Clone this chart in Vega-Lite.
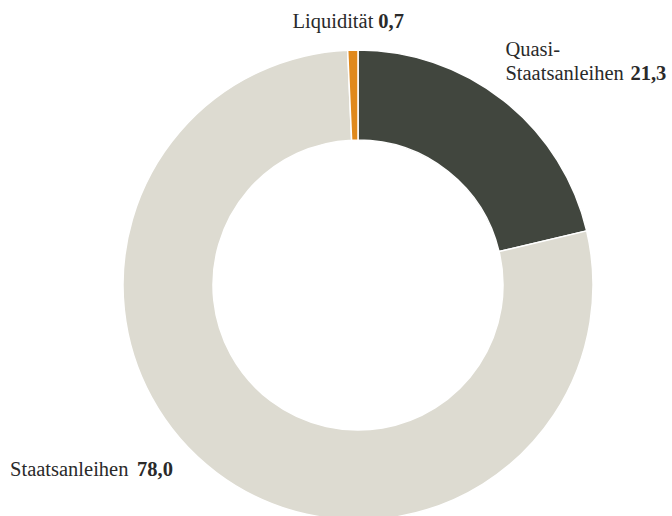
{
  "$schema": "https://vega.github.io/schema/vega-lite/v6.json",
  "width": 628,
  "height": 470,
  "autosize": "none",
  "padding": {"left": 44, "top": 50, "right": 0, "bottom": 0},
  "background": "white",
  "config": {
    "view": {"stroke": null},
    "locale": {"number": {"decimal": ",", "thousands": ".", "grouping": [3], "currency": ["", " €"]}},
    "text": {"font": "Liberation Serif", "fontSize": 20.5, "fill": "#2a2a2a", "baseline": "alphabetic"}
  },
  "data": {
    "values": [
      {"nr": 1, "name": "Quasi-\nStaatsanleihen", "anteil": 21.3},
      {"nr": 2, "name": "Staatsanleihen", "anteil": 78.0},
      {"nr": 3, "name": "Liquidität", "anteil": 0.7}
    ]
  },
  "encoding": {
    "theta": {"field": "anteil", "type": "quantitative", "stack": true},
    "order": {"field": "nr", "type": "quantitative"}
  },
  "layer": [
    {
      "mark": {"type": "arc", "outerRadius": 235, "innerRadius": 145, "stroke": "white", "strokeWidth": 1.5},
      "encoding": {
        "color": {
          "field": "name",
          "type": "nominal",
          "scale": {"domain": ["Quasi-\nStaatsanleihen", "Staatsanleihen", "Liquidität"], "range": ["#41463e", "#dddbd1", "#e0891c"]},
          "legend": null
        }
      }
    },
    {
      "mark": {"type": "text", "radius": 257, "align": "left", "dx": -12, "dy": -27, "lineBreak": "\n", "lineHeight": 24},
      "encoding": {"text": {"condition": {"test": "datum.nr === 1", "field": "name"}, "value": ""}}
    },
    {
      "mark": {"type": "text", "radius": 257, "align": "left", "dx": 113, "dy": -3, "fontWeight": "bold"},
      "encoding": {"text": {"condition": {"test": "datum.nr === 1", "field": "anteil", "type": "quantitative", "format": ".1f"}, "value": ""}}
    },
    {
      "mark": {"type": "text", "radius": 257, "align": "left", "dx": -193, "dy": -14},
      "encoding": {"text": {"condition": {"test": "datum.nr === 2", "field": "name"}, "value": ""}}
    },
    {
      "mark": {"type": "text", "radius": 257, "align": "left", "dx": -66, "dy": -14, "fontWeight": "bold"},
      "encoding": {"text": {"condition": {"test": "datum.nr === 2", "field": "anteil", "type": "quantitative", "format": ".1f"}, "value": ""}}
    },
    {
      "mark": {"type": "text", "radius": 257, "align": "right", "dx": 21, "dy": 0},
      "encoding": {"text": {"condition": {"test": "datum.nr === 3", "field": "name"}, "value": ""}}
    },
    {
      "mark": {"type": "text", "radius": 257, "align": "left", "dx": 26, "dy": 0, "fontWeight": "bold"},
      "encoding": {"text": {"condition": {"test": "datum.nr === 3", "field": "anteil", "type": "quantitative", "format": ".1f"}, "value": ""}}
    }
  ]
}
